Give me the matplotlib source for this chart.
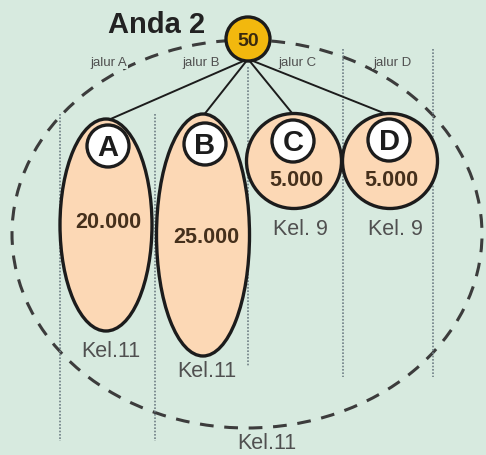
"""plot.py -- Anda 2 diagram: root 50 splits into jalur A-D."""
import matplotlib; matplotlib.use("Agg")
import matplotlib.pyplot as plt
from matplotlib.patches import Ellipse, Circle

# data
title = "Anda 2"
root_value = 50
groups = ["A", "B", "C", "D"]
paths = ["jalur A", "jalur B", "jalur C", "jalur D"]
values = [20000, 25000, 5000, 5000]
kel_labels = ["Kel.11", "Kel.11", "Kel. 9", "Kel. 9"]
outer_label = "Kel.11"

# layout (pixel coords, y down)
cx = [106, 203, 294, 390]
cy = [226, 236, 162, 162]
ew = [92, 93, 95, 95]
eh = [212, 242, 95, 95]
badge_y = [147, 145, 142, 141]
value_xy = [(108, 223), (206, 238), (296, 181), (391, 181)]
kel_xy = [(111, 352), (207, 372), (300, 230), (395, 230)]
path_x = [109, 201, 297, 392]
vlines = [(60, 115, 442), (155, 115, 442), (248, 68, 368), (343, 50, 378), (433, 50, 378)]

BG = "#d7eadf"
PEACH = "#fcd8b5"
GOLD = "#f2b80e"
INK = "#1c1c1c"

fig = plt.figure(figsize=(4.86, 4.56), dpi=100, facecolor=BG)
ax = fig.add_axes([0, 0, 1, 1])
ax.set_xlim(0, 486); ax.set_ylim(456, 0); ax.axis("off")
ax.set_facecolor(BG)
plt.rcParams["font.family"] = ["Liberation Sans", "DejaVu Sans"]

# outer dashed group
ax.add_patch(Ellipse((247, 235), 470, 388, fill=False, ec="#3c3c3c", lw=2.2,
                     ls=(0, (4.5, 3.5)), zorder=1))

# column guides
for x, y0, y1 in vlines:
    ax.plot([x, x], [y0, y1], color="#6f7f85", lw=1.2, ls=(0, (1, 1)), zorder=2)

# root
rx, ry = 248, 40
for i in range(4):
    ax.plot([rx, cx[i]], [ry + 20, cy[i] - eh[i] / 2 + 2], color=INK, lw=1.4, zorder=3)
ax.add_patch(Circle((rx, ry), 22, fc=GOLD, ec=INK, lw=2.4, zorder=6))
ax.text(rx, ry + 1, str(root_value), ha="center", va="center", fontsize=14,
        weight="bold", color="#3a2a0e", zorder=7)
ax.text(157, 25, title, ha="center", va="center", fontsize=21, weight="bold", color="#222")

for i, g in enumerate(groups):
    bx = cx[i] + 2 if i < 2 else cx[i] - 1
    ax.add_patch(Ellipse((cx[i], cy[i]), ew[i], eh[i], fc=PEACH, ec=INK, lw=2.4, zorder=4))
    ax.add_patch(Circle((bx, badge_y[i]), 21, fc="white", ec=INK, lw=2.4, zorder=5))
    ax.text(bx, badge_y[i] + 1, g, ha="center", va="center",
            fontsize=21, weight="bold", color=INK, zorder=6)
    ax.text(*value_xy[i], f"{values[i]:,}".replace(",", "."), ha="center", va="center",
            fontsize=15.5, weight="bold", color="#45301c", zorder=6)
    ax.text(*kel_xy[i], kel_labels[i], ha="center", va="center", fontsize=15.5,
            color="#505050", zorder=6)
    ax.text(path_x[i], 63, paths[i], ha="center", va="center", fontsize=9.5,
            color="#505050", zorder=6,
            bbox=dict(boxstyle="square,pad=0.05", fc=BG, ec="none"))

ax.text(267, 444, outer_label, ha="center", va="center", fontsize=15.5, color="#505050")

fig.savefig("out.png", dpi=100, facecolor=BG)
